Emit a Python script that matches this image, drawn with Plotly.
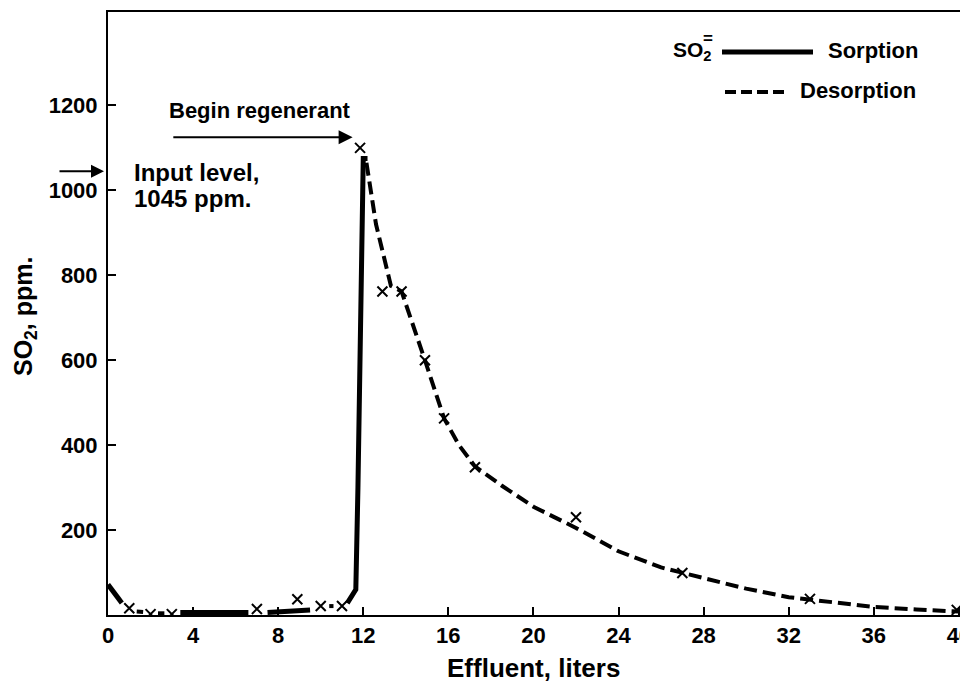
import plotly.graph_objects as go

# ---- data ----
marker_x = [1.0, 2.0, 3.0, 7.0, 8.9, 10.0, 11.0, 11.85, 12.9, 13.8, 14.9, 15.8, 17.25, 22.0, 27.0, 33.0, 39.9]
marker_y = [16, 2, 2, 14, 37, 21, 21, 1100, 762, 762, 600, 463, 348, 230, 99, 38, 12]

sorp_x = [0, 0.65, None, 3.4, 6.6, None, 7.5, 9.5, None, 11.25, 11.65, 11.75, 12.0, 12.2]
sorp_y = [72, 28, None, 6, 6, None, 6, 12, None, 28, 60, 300, 1075, 1075]

des_x = [12.15, 12.6, 13.3, 13.8, 14.9, 15.8, 16.5, 17.25, 18.5, 20, 22, 24, 26, 27, 28, 30, 32, 33, 36, 38, 40]
des_y = [1065, 920, 775, 762, 600, 463, 400, 350, 305, 255, 205, 150, 112, 99, 87, 62, 42, 36, 19, 13, 8]

des_low_x = [1.35, 1.65, None, 2.35, 2.65, None, 10.4, 10.6]
des_low_y = [8, 7, None, 4, 4, None, 21, 21]

x_ticks = [0, 4, 8, 12, 16, 20, 24, 28, 32, 36, 40]
y_ticks = [200, 400, 600, 800, 1000, 1200]

input_level = 1045

# page has an 8px body margin; figure is sized to fit the window
OFF = 8
W, H = 968 - OFF, 688 - OFF
# plot area in page pixels
L, R, T, B = 108, 961, 12, 615
def px(p):
    return (p - L) / (R - L)
def py(p):
    return (B - p) / (B - T)

FONT = "Liberation Sans"
def f(size):
    return dict(family=FONT, size=size, color="black", weight="bold")

fig = go.Figure()

fig.add_trace(go.Scatter(x=sorp_x, y=sorp_y, mode="lines",
                         line=dict(color="black", width=5), connectgaps=False, showlegend=False))
fig.add_trace(go.Scatter(x=des_x, y=des_y, mode="lines",
                         line=dict(color="black", width=4, dash="13px,6px"), showlegend=False))
fig.add_trace(go.Scatter(x=des_low_x, y=des_low_y, mode="lines",
                         line=dict(color="black", width=4), connectgaps=False, showlegend=False))
fig.add_trace(go.Scatter(x=marker_x, y=marker_y, mode="markers",
                         marker=dict(symbol="x-thin", size=10, line=dict(color="black", width=2)),
                         showlegend=False))

ann = []
# Begin regenerant
ann.append(dict(x=2.75, y=1188, xref="x", yref="y", text="Begin regenerant", showarrow=False,
                xanchor="left", yanchor="middle", font=f(22)))
ann.append(dict(x=11.5, y=1125, ax=3.0, ay=1125, xref="x", yref="y", axref="x", ayref="y",
                text="", showarrow=True, arrowhead=2, arrowsize=1.4, arrowwidth=2, arrowcolor="black"))
# Input level
ann.append(dict(x=1.15, y=1042, xref="x", yref="y", text="Input level,", showarrow=False,
                xanchor="left", yanchor="middle", font=f(24)))
ann.append(dict(x=1.15, y=980, xref="x", yref="y", text="1045 ppm.", showarrow=False,
                xanchor="left", yanchor="middle", font=f(24)))
ann.append(dict(x=px(104), y=input_level, xref="paper", yref="y", ax=-46, ay=0,
                text="", showarrow=True, arrowhead=2, arrowsize=1.3, arrowwidth=2, arrowcolor="black"))
# Legend
ann.append(dict(x=px(671), y=py(51), xref="paper", yref="paper", text="SO<sub>2</sub>", showarrow=False,
                xanchor="left", yanchor="middle", font=f(21)))
ann.append(dict(x=px(708), y=py(38), xref="paper", yref="paper", text="=", showarrow=False,
                xanchor="center", yanchor="middle", font=f(17)))
ann.append(dict(x=px(826), y=py(50), xref="paper", yref="paper", text="Sorption", showarrow=False,
                xanchor="left", yanchor="middle", font=f(22)))
ann.append(dict(x=px(798), y=py(91), xref="paper", yref="paper", text="Desorption", showarrow=False,
                xanchor="left", yanchor="middle", font=f(22)))
# Axis titles
ann.append(dict(x=px(533), y=py(668), xref="paper", yref="paper", text="Effluent, liters", showarrow=False,
                xanchor="center", yanchor="middle", font=f(26)))
ann.append(dict(x=px(25), y=py(317), xref="paper", yref="paper", text="SO<sub>2</sub>, ppm.", showarrow=False,
                textangle=-90, xanchor="center", yanchor="middle", font=f(25)))

shapes = [
    dict(type="line", xref="paper", yref="paper", x0=px(722), x1=px(813), y0=py(52), y1=py(52),
         line=dict(color="black", width=5)),
    dict(type="line", xref="paper", yref="paper", x0=px(725), x1=px(787), y0=py(92), y1=py(92),
         line=dict(color="black", width=4, dash="11px,5px")),
]

fig.update_layout(
    width=W, height=H,
    margin=dict(l=L - OFF, r=W - (R - OFF), t=T - OFF, b=H - (B - OFF), autoexpand=False),
    paper_bgcolor="white", plot_bgcolor="white",
    annotations=ann, shapes=shapes,
    xaxis=dict(range=[0, 40.1], tickvals=x_ticks, ticktext=[str(v) for v in x_ticks],
               ticks="inside", ticklen=8, tickwidth=2, tickcolor="black",
               showline=True, linecolor="black", linewidth=2, mirror=True,
               showgrid=False, zeroline=False, tickfont=f(22), ticklabeloverflow="allow"),
    yaxis=dict(range=[0, 1420], tickvals=y_ticks, ticktext=[str(v) for v in y_ticks],
               ticks="inside", ticklen=8, tickwidth=2, tickcolor="black",
               showline=True, linecolor="black", linewidth=2, mirror=True,
               showgrid=False, zeroline=False, tickfont=f(22), ticklabelstandoff=4),
)

fig.write_html("out.html")
